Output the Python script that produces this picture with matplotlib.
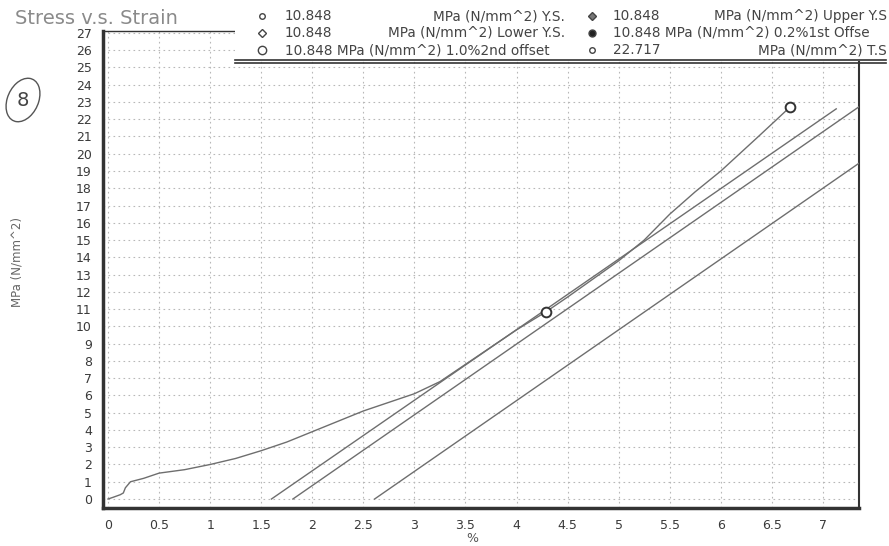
import matplotlib
matplotlib.use("Agg")
import matplotlib.pyplot as plt
from matplotlib.lines import Line2D
from matplotlib.patches import Rectangle, Ellipse

# stress-strain curve
strain = [0.00, 0.05, 0.12, 0.15, 0.17, 0.22, 0.35, 0.50, 0.75, 1.00, 1.25, 1.50,
          1.75, 2.00, 2.25, 2.50, 2.75, 3.00, 3.25, 3.50, 3.75, 4.00, 4.29, 4.50,
          5.00, 5.25, 5.50, 5.75, 6.00, 6.35, 6.55, 6.68]
stress = [0.00, 0.10, 0.25, 0.35, 0.65, 1.00, 1.20, 1.50, 1.70, 2.00, 2.35, 2.80,
          3.30, 3.90, 4.50, 5.10, 5.60, 6.10, 6.80, 7.80, 8.80, 9.80, 10.85, 11.70,
          13.80, 15.00, 16.50, 17.80, 19.00, 20.90, 22.00, 22.72]

# offset lines (start on the x axis, end point)
offset_x0 = [1.60, 1.81, 2.61]
offset_x1 = [7.13, 7.36, 7.36]
offset_y1 = [22.60, 22.75, 19.48]

# marked points: yield and tensile strength
mark_x = [4.29, 6.68]
mark_y = [10.848, 22.717]

xticks = [0, 0.5, 1, 1.5, 2, 2.5, 3, 3.5, 4, 4.5, 5, 5.5, 6, 6.5, 7]
xticklabels = ["0", "0.5", "1", "1.5", "2", "2.5", "3", "3.5", "4", "4.5",
               "5", "5.5", "6", "6.5", "7"]
yticks = list(range(0, 28))

legend_values = ["10.848", "10.848", "10.848", "10.848", "10.848", "22.717"]
legend_units = ["MPa (N/mm^2) Y.S.", "MPa (N/mm^2) Lower Y.S.", "MPa (N/mm^2) 1.0%2nd offset",
                "MPa (N/mm^2) Upper Y.S", "MPa (N/mm^2) 0.2%1st Offse", "MPa (N/mm^2) T.S"]

W, H = 889, 546
fig = plt.figure(figsize=(W / 100, H / 100), dpi=100)
fig.patch.set_facecolor("white")


def fx(px):
    return px / W


def fy(py):
    return 1 - py / H


ax = fig.add_axes([fx(103), fy(508), fx(859) - fx(103), fy(31) - fy(508)])

line_col = "#6e6e6e"
ax.plot(strain, stress, color=line_col, lw=1.0, zorder=3)
for x0, x1, y1 in zip(offset_x0, offset_x1, offset_y1):
    ax.plot([x0, x1], [0, y1], color=line_col, lw=1.0, zorder=3)
ax.plot(mark_x, mark_y, ls="none", marker="o", ms=7, mfc="white",
        mec="#333333", mew=1.4, zorder=4)

ax.set_xlim(-0.049, 7.353)
ax.set_ylim(-0.52, 27.11)
ax.set_xticks(xticks)
ax.set_xticklabels(xticklabels)
ax.set_yticks(yticks)
ax.tick_params(length=0, labelsize=9, labelcolor="#3a3a3a", pad=8)
ax.grid(True, ls=(0, (1.5, 3)), color="#b8b8b8", lw=0.8)

ax.spines["left"].set_linewidth(2.5)
ax.spines["bottom"].set_linewidth(2.5)
ax.spines["right"].set_linewidth(1.5)
ax.spines["top"].set_linewidth(1.0)
for s in ax.spines.values():
    s.set_color("#333333")

ax.set_xlabel("%", fontsize=9, color="#555555")
ax.xaxis.set_label_coords((472 - 103) / (859 - 103), -(532 - 508) / (508 - 31))
ax.set_ylabel("MPa (N/mm^2)", fontsize=8.5, color="#666666")
ax.yaxis.set_label_coords(-(103 - 24) / (859 - 103), (508 - 262) / (508 - 31))

fig.text(fx(15), fy(18), "Stress v.s. Strain", fontsize=14, color="#8a8a8a",
         ha="left", va="center")

# legend block covering the top right of the plot
fig.add_artist(Rectangle((fx(235), fy(61)), 1 - fx(235), fy(0) - fy(61),
                         transform=fig.transFigure, facecolor="white",
                         edgecolor="none", zorder=5))
for py in [60, 63]:
    fig.add_artist(Line2D([fx(235), fx(886)], [fy(py), fy(py)],
                          transform=fig.transFigure, color="#333333", lw=1.2, zorder=6))

row_y = [16, 33, 50]
leg_markers = [("o", 4, "white"), ("D", 4, "white"), ("o", 6, "white"),
               ("D", 4, "#777777"), ("o", 5, "#222222"), ("o", 4, "white")]
col_marker_x = [262, 592]
col_value_x = [285, 613]
col_unit_right = [565, 887]
fs = 9.8
for i in range(6):
    col, row = divmod(i, 3)
    yy = fy(row_y[row])
    m, ms, mfc = leg_markers[i]
    fig.add_artist(Line2D([fx(col_marker_x[col])], [yy], transform=fig.transFigure,
                          marker=m, ms=ms, mfc=mfc, mec="#444444", mew=1.0,
                          ls="none", zorder=7))
    inline = (col == 0 and row == 2) or (col == 1 and row == 1)
    if inline:
        fig.text(fx(col_value_x[col]), yy, legend_values[i] + " " + legend_units[i],
                 fontsize=fs, color="#444444", ha="left", va="center", zorder=7)
    else:
        fig.text(fx(col_value_x[col]), yy, legend_values[i], fontsize=fs,
                 color="#444444", ha="left", va="center", zorder=7)
        fig.text(fx(col_unit_right[col]), yy, legend_units[i], fontsize=fs,
                 color="#444444", ha="right", va="center", zorder=7)

# handwritten sample number
fig.add_artist(Ellipse((fx(23), fy(100)), fx(32), 44 / H, angle=-10,
                       transform=fig.transFigure, facecolor="none",
                       edgecolor="#555555", lw=1.0))
fig.text(fx(23), fy(100), "8", fontsize=14, color="#444444", ha="center",
         va="center")

fig.savefig("out.png", dpi=100)
